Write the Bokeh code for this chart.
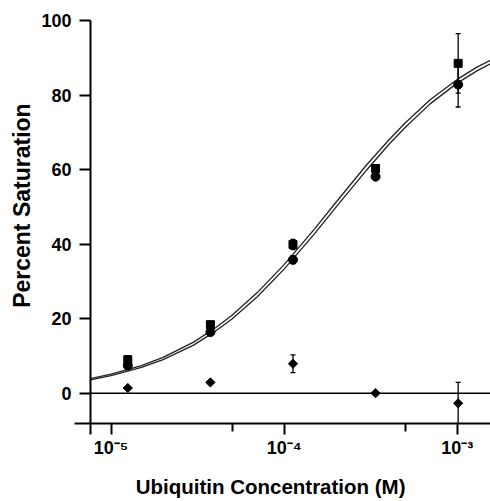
import math
from bokeh.plotting import figure
from bokeh.models import FixedTicker, Whisker, TeeHead, ColumnDataSource, Range1d
from bokeh.embed import file_html
from bokeh.resources import INLINE

# ---- data ----
conc = [1.25e-5, 3.75e-5, 1.125e-4, 3.375e-4, 1.0125e-3]
sat_squares = [9.0, 18.4, 39.9, 60.3, 88.5]
err_squares = [1.0, 0.8, 1.4, 0.8, 8.0]
sat_circles = [7.4, 16.4, 35.8, 58.1, 82.8]
err_circles = [0.8, 0.8, 1.0, 0.8, 6.0]
sat_control = [1.4, 2.9, 7.9, 0.0, -2.7]
err_control = [0.4, 0.4, 2.4, 0.5, 5.6]

fit_conc = [7.6e-6, 1.0e-5, 1.5e-5, 2.0e-5, 3.0e-5, 4.0e-5, 5.0e-5, 7.0e-5, 1.0e-4,
            1.5e-4, 2.0e-4, 3.0e-4, 4.0e-4, 5.0e-4, 7.0e-4, 1.0e-3, 1.3e-3, 1.6e-3]
fit_upper = [3.9, 5.1, 7.4, 9.6, 13.7, 17.5, 20.9, 27.0, 34.5,
             44.1, 51.3, 61.3, 67.8, 72.5, 78.8, 84.2, 87.5, 89.6]
fit_lower = [3.6, 4.7, 6.9, 9.0, 12.9, 16.6, 19.9, 25.9, 33.3,
             42.8, 50.0, 59.9, 66.6, 71.3, 77.7, 83.2, 86.5, 88.7]

x_ticks = [1e-5, 1e-4, 1e-3]
x_minor_ticks = [5e-5, 5e-4]
x_tick_labels = ["10\u207b\u2075", "10\u207b\u2074", "10\u207b\u00b3"]
y_ticks = [0, 20, 40, 60, 80, 100]

x_title = "Ubiquitin Concentration (M)"
y_title = "Percent Saturation"

# ---- layout constants ----
X_START, X_END = 7.61e-6, 1.557e-3     # frame left = y-axis position
Y_START, Y_END = -8.13, 105.37         # frame bottom = x-axis position
FONT = "Liberation Sans"
NB = "\u00a0"

p = figure(width=490, height=501, x_axis_type="log",
           x_range=Range1d(X_START, X_END), y_range=Range1d(Y_START, Y_END),
           output_backend="svg", toolbar_location=None,
           min_border_left=90, min_border_right=0, min_border_top=0, min_border_bottom=78)
p.outline_line_color = None
p.grid.visible = False
p.background_fill_color = "white"
p.border_fill_color = "white"

for ax in (p.xaxis[0], p.yaxis[0]):
    ax.axis_line_width = 2
    ax.axis_line_color = "black"
    ax.major_tick_line_width = 2
    ax.major_tick_line_color = "black"
    ax.minor_tick_line_width = 2
    ax.minor_tick_line_color = "black"
    ax.major_tick_in = 0
    ax.minor_tick_in = 0
    ax.major_tick_out = 11
    ax.major_label_text_font = FONT
    ax.major_label_text_font_style = "bold"
    ax.major_label_text_font_size = "18px"
    ax.major_label_text_color = "black"
    ax.axis_label_text_font = FONT
    ax.axis_label_text_font_style = "bold"
    ax.axis_label_text_color = "black"

# x axis: the extra major tick at the frame's left edge continues the y axis line below
p.xaxis.ticker = FixedTicker(ticks=[X_START] + x_ticks, minor_ticks=x_minor_ticks)
p.xaxis.major_label_overrides = dict([(X_START, "")] + list(zip(x_ticks, x_tick_labels)))
p.xaxis.minor_tick_out = 8
p.xaxis.major_label_standoff = 3
p.xaxis.axis_label = x_title + NB * 7
p.xaxis.axis_label_text_font_size = "20.5px"
p.xaxis.axis_label_standoff = 14

# y axis: a minor tick at the frame bottom continues the x axis line to the left
p.yaxis.ticker = FixedTicker(ticks=y_ticks, minor_ticks=[Y_START])
p.yaxis.minor_tick_out = 16
p.yaxis.major_label_standoff = 3
p.yaxis.bounds = (Y_START, 100)
p.yaxis.axis_label = NB * 2 + y_title
p.yaxis.axis_label_text_font_size = "23px"
p.yaxis.axis_label_standoff = 3

# zero line
p.segment(x0=[X_START], y0=[0], x1=[X_END], y1=[0], line_color="black", line_width=1.5)

# fitted curves
p.line(fit_conc, fit_upper, line_color="#222222", line_width=1.3)
p.line(fit_conc, fit_lower, line_color="#222222", line_width=1.3)

def add_series(ys, errs, marker, size, angle=0.0):
    src = ColumnDataSource(dict(x=conc, y=ys,
                                lo=[a - b for a, b in zip(ys, errs)],
                                hi=[a + b for a, b in zip(ys, errs)]))
    w = Whisker(base="x", lower="lo", upper="hi", source=src, dimension="height",
                line_color="black", line_width=1.3,
                upper_head=TeeHead(size=5, line_color="black", line_width=1.3),
                lower_head=TeeHead(size=5, line_color="black", line_width=1.3))
    p.add_layout(w)
    p.scatter("x", "y", source=src, marker=marker, size=size, angle=angle,
              fill_color="black", line_color="black")

add_series(sat_control, err_control, "square", 6.5, math.pi / 4)
add_series(sat_circles, err_circles, "circle", 9)
add_series(sat_squares, err_squares, "square", 8)

open("out.html", "w").write(file_html(p, INLINE))
